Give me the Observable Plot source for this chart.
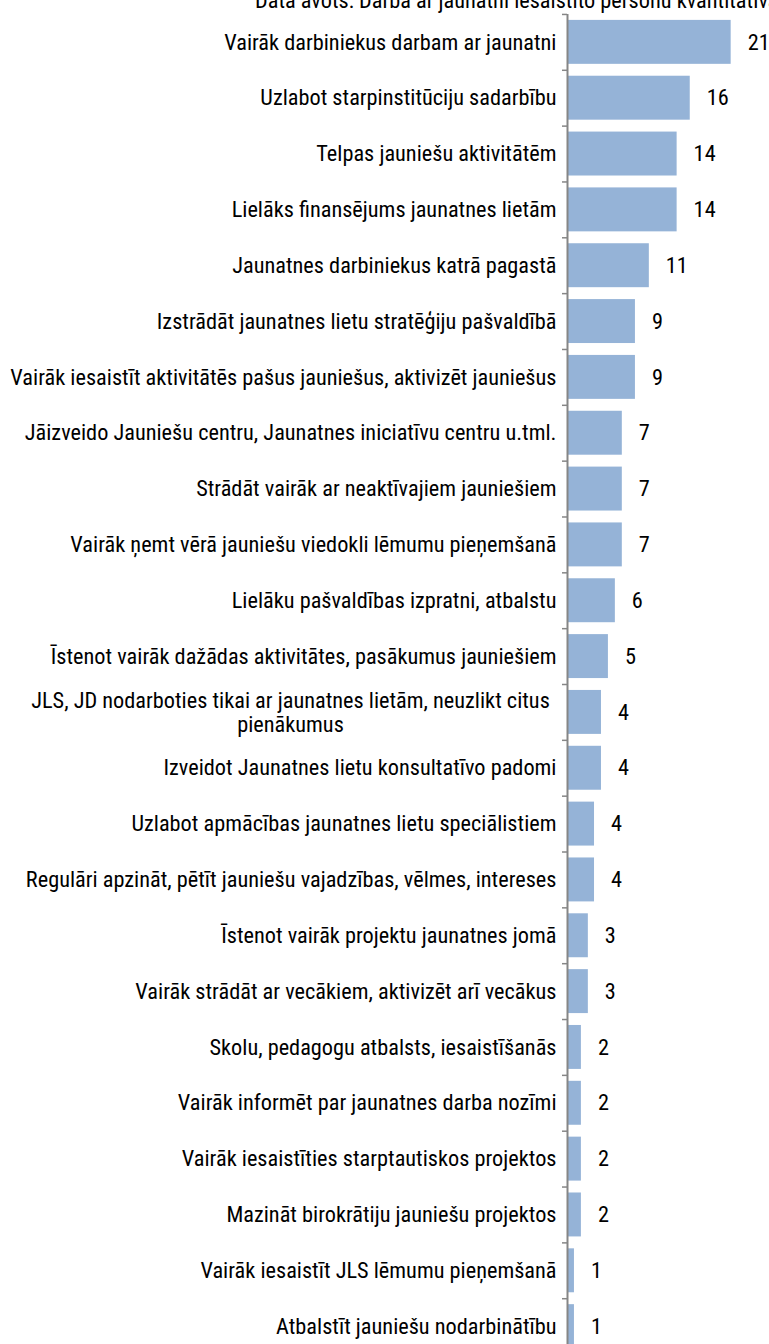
<!DOCTYPE html>
<html><head><meta charset="utf-8">
<script src="https://cdn.jsdelivr.net/npm/d3@7"></script>
<script src="https://cdn.jsdelivr.net/npm/@observablehq/plot@0.6"></script>
<style>
html,body{margin:0;padding:0;background:#fff;overflow:hidden;width:769px;height:1344px}
#wrap{position:relative;width:769px;height:1344px;overflow:hidden;background:#fff}
#chart{position:absolute;left:0;top:0;width:769px}
#src{position:absolute;left:255px;top:-11px;z-index:2;font-family:"Roboto Condensed","Liberation Sans",sans-serif;font-size:22.3px;line-height:22px;white-space:nowrap;color:#000}
</style></head><body>
<div id="wrap"><div id="chart"></div><div id="src">Data avots: Darba ar jaunatni iesaistīto personu kvantitatīvā aptauja</div></div>
<script>
const categories = [
  "Vairāk darbiniekus darbam ar jaunatni",
  "Uzlabot starpinstitūciju sadarbību",
  "Telpas jauniešu aktivitātēm",
  "Lielāks finansējums jaunatnes lietām",
  "Jaunatnes darbiniekus katrā pagastā",
  "Izstrādāt jaunatnes lietu stratēģiju pašvaldībā",
  "Vairāk iesaistīt aktivitātēs pašus jauniešus, aktivizēt jauniešus",
  "Jāizveido Jauniešu centru, Jaunatnes iniciatīvu centru u.tml.",
  "Strādāt vairāk ar neaktīvajiem jauniešiem",
  "Vairāk ņemt vērā jauniešu viedokli lēmumu pieņemšanā",
  "Lielāku pašvaldības izpratni, atbalstu",
  "Īstenot vairāk dažādas aktivitātes, pasākumus jauniešiem",
  "JLS, JD nodarboties tikai ar jaunatnes lietām, neuzlikt citus pienākumus",
  "Izveidot Jaunatnes lietu konsultatīvo padomi",
  "Uzlabot apmācības jaunatnes lietu speciālistiem",
  "Regulāri apzināt, pētīt jauniešu vajadzības, vēlmes, intereses",
  "Īstenot vairāk projektu jaunatnes jomā",
  "Vairāk strādāt ar vecākiem, aktivizēt arī vecākus",
  "Skolu, pedagogu atbalsts, iesaistīšanās",
  "Vairāk informēt par jaunatnes darba nozīmi",
  "Vairāk iesaistīties starptautiskos projektos",
  "Mazināt birokrātiju jauniešu projektos",
  "Vairāk iesaistīt JLS lēmumu pieņemšanā",
  "Atbalstīt jauniešu nodarbinātību"
];
// percentage values (bar lengths); labels show them rounded
const values = [21.2, 15.9, 14.2, 14.2, 10.6, 8.8, 8.8, 7.1, 7.1, 7.1, 6.2, 5.3,
                4.4, 4.4, 3.5, 3.5, 2.7, 2.7, 1.8, 1.8, 1.8, 1.8, 0.9, 0.9];
const valueLabels = ["21","16","14","14","11","9","9","7","7","7","6","5",
                     "4","4","4","4","3","3","2","2","2","2","1","1"];
const wrappedCategory = "JLS, JD nodarboties tikai ar jaunatnes lietām, neuzlikt citus pienākumus";
const wrappedText = "JLS, JD nodarboties tikai ar jaunatnes lietām, neuzlikt citus\npienākumus";

const data = categories.map((c, i) => ({category: c, value: values[i], label: valueLabels[i]}));
const font = '"Roboto Condensed", "Liberation Sans", sans-serif';
const fs = 22.3;

const chart = Plot.plot({
  width: 769,
  height: 1362,
  marginLeft: 567,
  marginRight: 9,
  marginTop: 8,
  marginBottom: 2,
  style: {fontFamily: font, fontSize: fs + "px", color: "#000", overflow: "visible"},
  x: {domain: [0, 25], axis: null},
  y: {domain: categories, padding: 0.213, round: false, axis: null, label: null},
  marks: [
    Plot.barX(data, {x: "value", y: "category", fill: "#95B3D7"}),
    Plot.ruleY(categories, {y: d => d, x1: -0.65, x2: 0, dy: -27.92, stroke: "#868686", strokeWidth: 1.5}),
    Plot.ruleX([0], {stroke: "#868686", strokeWidth: 2, insetTop: 6}),
    Plot.axisY({tickSize: 0, tickPadding: 11, stroke: "none", fill: "#000", fontSize: fs, label: null,
                tickFormat: d => d === wrappedCategory ? "" : d}),
    Plot.text([wrappedCategory], {y: d => d, x: 0, text: () => wrappedText, textAnchor: "middle",
                dx: -277, fill: "#000", fontSize: fs, lineHeight: 1.08}),
    Plot.text(data, {x: "value", y: "category", text: "label", textAnchor: "start", dx: 16.5, fill: "#000", fontSize: fs})
  ]
});
document.getElementById("chart").appendChild(chart);
</script>
</body></html>
